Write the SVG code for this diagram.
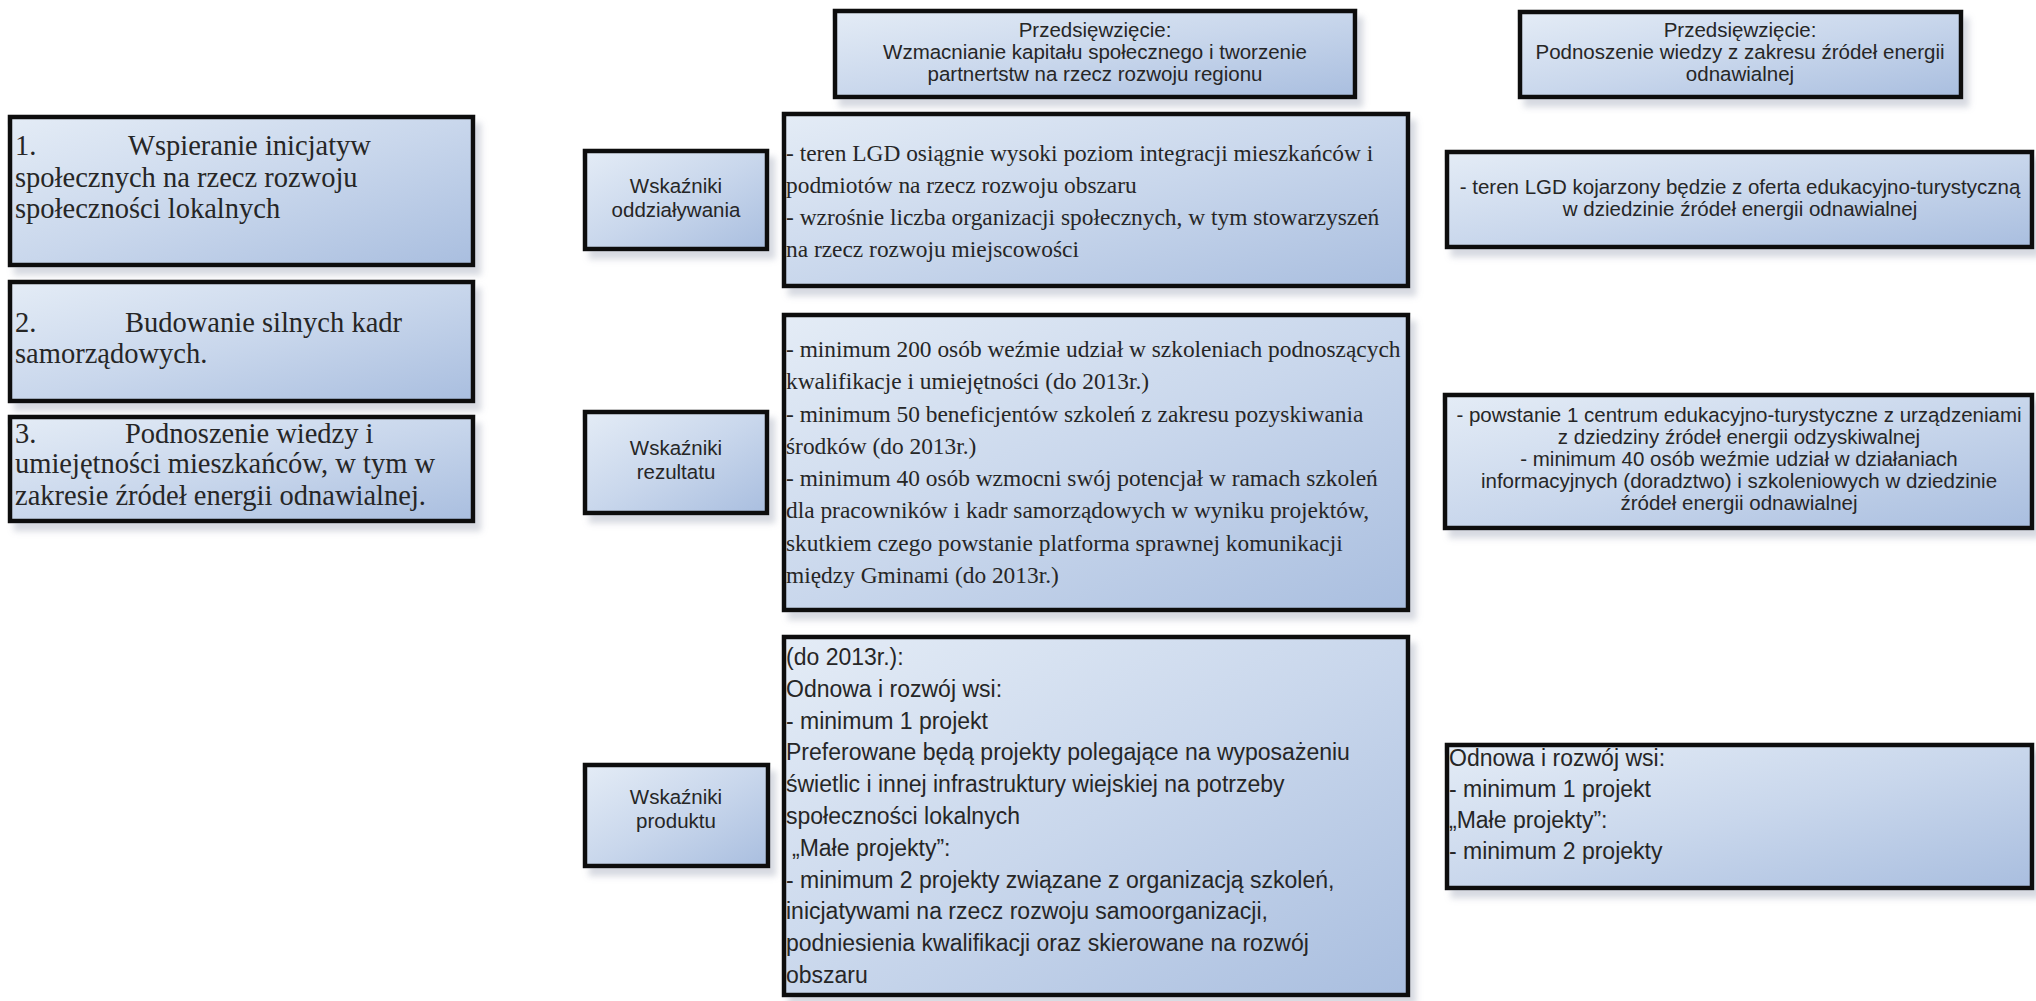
<svg xmlns="http://www.w3.org/2000/svg" width="2036" height="1001" viewBox="0 0 2036 1001">
<defs>
<linearGradient id="fillg" x1="0" y1="0" x2="1" y2="1">
<stop offset="0" stop-color="#e4ecf6"/>
<stop offset="0.5" stop-color="#c9d7ec"/>
<stop offset="1" stop-color="#a9bedf"/>
</linearGradient>
<filter id="sh" x="-5%" y="-10%" width="115%" height="130%">
<feDropShadow dx="6" dy="8" stdDeviation="3" flood-color="#8a93a8" flood-opacity="0.35"/>
</filter>
</defs>
<style>
.box{fill:url(#fillg);stroke:#111;stroke-width:4.5;filter:url(#sh)}
.serL{font-family:"Liberation Serif","Times New Roman",serif;font-size:28.5px;fill:#262626}
.ser{font-family:"Liberation Serif","Times New Roman",serif;font-size:23.4px;fill:#262626}
.sans{font-family:"Liberation Sans",Arial,sans-serif;font-size:23px;fill:#262626}
.sm{font-family:"Liberation Sans",Arial,sans-serif;font-size:20.5px;fill:#262626;text-anchor:middle}
</style>
<rect width="2036" height="1001" fill="#ffffff"/>

<g id="goal1">
<rect class="box" x="10" y="117" width="463" height="148"/>
<text class="serL" x="15" y="155">1.</text>
<text class="serL" x="128" y="155">Wspieranie inicjatyw</text>
<text class="serL" x="15" y="187">społecznych na rzecz rozwoju</text>
<text class="serL" x="15" y="218">społeczności lokalnych</text>
</g>
<g id="goal2">
<rect class="box" x="10" y="282" width="463" height="119"/>
<text class="serL" x="15" y="332">2.</text>
<text class="serL" x="125" y="332">Budowanie silnych kadr</text>
<text class="serL" x="15" y="363">samorządowych.</text>
</g>
<g id="goal3">
<rect class="box" x="10" y="417" width="463" height="104"/>
<text class="serL" x="15" y="443">3.</text>
<text class="serL" x="125" y="443">Podnoszenie wiedzy i</text>
<text class="serL" x="15" y="473">umiejętności mieszkańców, w tym w</text>
<text class="serL" x="15" y="505">zakresie źródeł energii odnawialnej.</text>
</g>

<g id="header1">
<rect class="box" x="835" y="11" width="520" height="86"/>
<text class="sm" x="1095" y="37">Przedsięwzięcie:</text>
<text class="sm" x="1095" y="59">Wzmacnianie kapitału społecznego i tworzenie</text>
<text class="sm" x="1095" y="81">partnertstw na rzecz rozwoju regionu</text>
</g>
<g id="header2">
<rect class="box" x="1520" y="12" width="441" height="85"/>
<text class="sm" x="1740" y="37">Przedsięwzięcie:</text>
<text class="sm" x="1740" y="59">Podnoszenie wiedzy z zakresu źródeł energii</text>
<text class="sm" x="1740" y="81">odnawialnej</text>
</g>

<g id="label-oddzialywania">
<rect class="box" x="585" y="151" width="182" height="98"/>
<text class="sm" x="676" y="193">Wskaźniki</text>
<text class="sm" x="676" y="217">oddziaływania</text>
</g>
<g id="label-rezultatu">
<rect class="box" x="585" y="412" width="182" height="101"/>
<text class="sm" x="676" y="455">Wskaźniki</text>
<text class="sm" x="676" y="479">rezultatu</text>
</g>
<g id="label-produktu">
<rect class="box" x="585" y="765" width="183" height="101"/>
<text class="sm" x="676" y="804">Wskaźniki</text>
<text class="sm" x="676" y="828">produktu</text>
</g>

<g id="content-oddzialywania">
<rect class="box" x="784" y="114" width="624" height="172"/>
<text class="ser" x="786" y="161">- teren LGD osiągnie wysoki poziom integracji mieszkańców i</text>
<text class="ser" x="786" y="193">podmiotów na rzecz rozwoju obszaru</text>
<text class="ser" x="786" y="225">- wzrośnie liczba organizacji społecznych, w tym stowarzyszeń</text>
<text class="ser" x="786" y="257">na rzecz rozwoju miejscowości</text>
</g>
<g id="content-rezultatu">
<rect class="box" x="784" y="315" width="624" height="295"/>
<text class="ser" x="786" y="357">- minimum 200 osób weźmie udział w szkoleniach podnoszących</text>
<text class="ser" x="786" y="389">kwalifikacje i umiejętności (do 2013r.)</text>
<text class="ser" x="786" y="422">- minimum 50 beneficjentów szkoleń z zakresu pozyskiwania</text>
<text class="ser" x="786" y="454">środków (do 2013r.)</text>
<text class="ser" x="786" y="486">- minimum 40 osób wzmocni swój potencjał w ramach szkoleń</text>
<text class="ser" x="786" y="518">dla pracowników i kadr samorządowych w wyniku projektów,</text>
<text class="ser" x="786" y="551">skutkiem czego powstanie platforma sprawnej komunikacji</text>
<text class="ser" x="786" y="583">między Gminami (do 2013r.)</text>
</g>
<g id="content-produktu">
<rect class="box" x="784" y="637" width="624" height="358"/>
<text class="sans" x="786" y="665">(do 2013r.):</text>
<text class="sans" x="786" y="697">Odnowa i rozwój wsi:</text>
<text class="sans" x="786" y="729">- minimum 1 projekt</text>
<text class="sans" x="786" y="760">Preferowane będą projekty polegające na wyposażeniu</text>
<text class="sans" x="786" y="792">świetlic i innej infrastruktury wiejskiej na potrzeby</text>
<text class="sans" x="786" y="824">społeczności lokalnych</text>
<text class="sans" x="792" y="856">„Małe projekty”:</text>
<text class="sans" x="786" y="888">- minimum 2 projekty związane z organizacją szkoleń,</text>
<text class="sans" x="786" y="919">inicjatywami na rzecz rozwoju samoorganizacji,</text>
<text class="sans" x="786" y="951">podniesienia kwalifikacji oraz skierowane na rozwój</text>
<text class="sans" x="786" y="983">obszaru</text>
</g>

<g id="right-oddzialywania">
<rect class="box" x="1447" y="152" width="585" height="95"/>
<text class="sm" x="1740" y="194">- teren LGD kojarzony będzie z oferta edukacyjno-turystyczną</text>
<text class="sm" x="1740" y="216">w dziedzinie źródeł energii odnawialnej</text>
</g>
<g id="right-rezultatu">
<rect class="box" x="1445" y="395" width="587" height="133"/>
<text class="sm" x="1739" y="422">- powstanie 1 centrum edukacyjno-turystyczne z urządzeniami</text>
<text class="sm" x="1739" y="444">z dziedziny źródeł energii odzyskiwalnej</text>
<text class="sm" x="1739" y="466">- minimum 40 osób weźmie udział w działaniach</text>
<text class="sm" x="1739" y="488">informacyjnych (doradztwo) i szkoleniowych w dziedzinie</text>
<text class="sm" x="1739" y="510">źródeł energii odnawialnej</text>
</g>
<g id="right-produktu">
<rect class="box" x="1447" y="745" width="585" height="143"/>
<text class="sans" x="1449" y="766">Odnowa i rozwój wsi:</text>
<text class="sans" x="1449" y="797">- minimum 1 projekt</text>
<text class="sans" x="1449" y="828">„Małe projekty”:</text>
<text class="sans" x="1449" y="859">- minimum 2 projekty</text>
</g>

<g id="connectors"/>
</svg>
